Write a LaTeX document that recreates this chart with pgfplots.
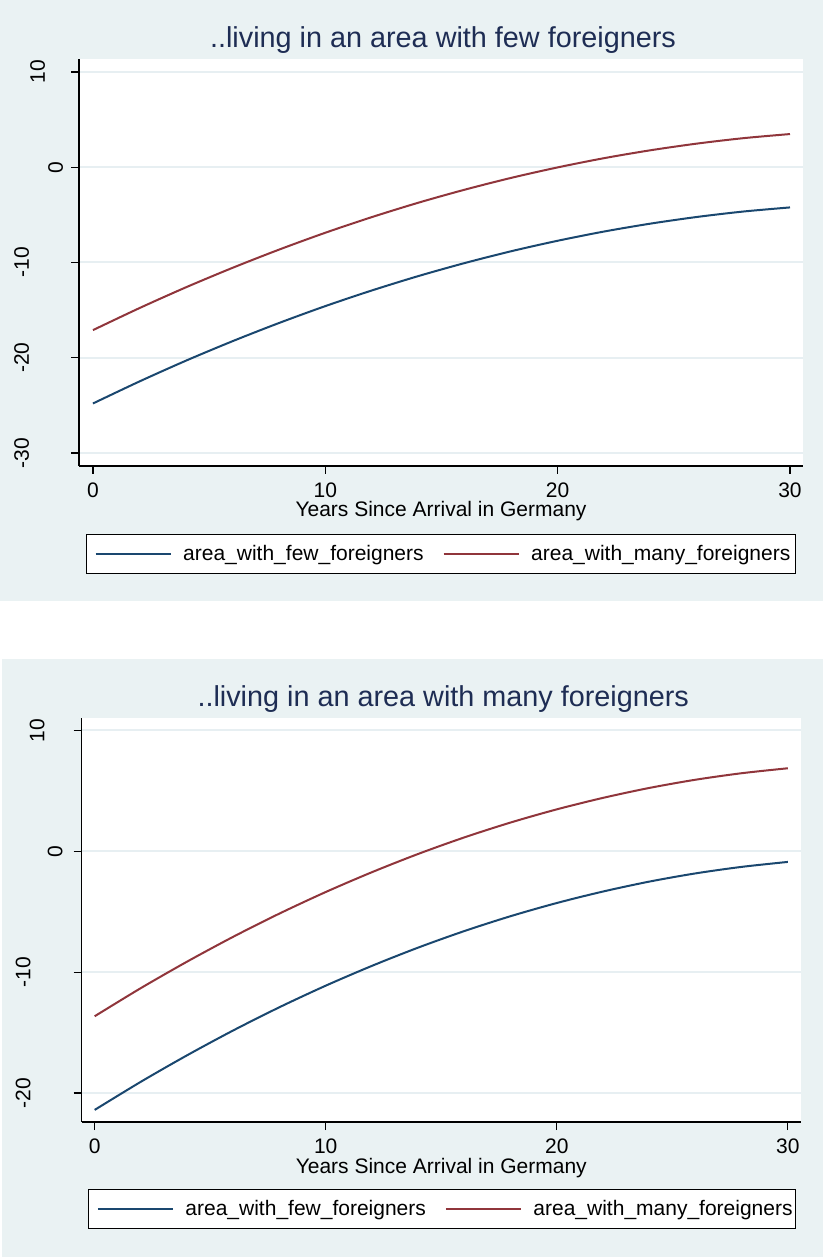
\documentclass[border=0pt]{standalone}
\usepackage{pgfplots}
\pgfplotsset{compat=1.18}
\usepackage{fontspec}
\setmainfont{Liberation Sans}
\definecolor{bg}{RGB}{234,242,243}
\definecolor{gridc}{RGB}{231,239,242}
\definecolor{navyS}{RGB}{26,71,111}
\definecolor{maroonS}{RGB}{144,53,59}
\definecolor{titlec}{RGB}{30,45,84}

\pgfplotstableread{
x    few     many
0   -24.80  -17.10
2   -22.49  -14.79
4   -20.31  -12.61
6   -18.27  -10.57
8   -16.36   -8.66
10  -14.58   -6.88
12  -12.94   -5.24
14  -11.43   -3.73
16  -10.06   -2.36
18   -8.82   -1.12
20   -7.72   -0.02
22   -6.75    0.95
24   -5.92    1.78
26   -5.22    2.48
28   -4.65    3.05
30   -4.22    3.48
}\panelA

\pgfplotstableread{
x    few     many
0   -21.40  -13.65
2   -19.07  -11.32
4   -16.88   -9.13
6   -14.82   -7.07
8   -12.90   -5.15
10  -11.12   -3.37
12   -9.48   -1.73
14   -7.97   -0.22
16   -6.60    1.15
18   -5.37    2.38
20   -4.28    3.47
22   -3.33    4.42
24   -2.51    5.24
26   -1.83    5.92
28   -1.29    6.46
30   -0.88    6.87
}\panelB

\pgfplotsset{
  stata/.style={
    scale only axis, anchor=south west,
    axis x line*=bottom, axis y line*=left,
    axis line style={-, line width=1.2bp, black},
    axis background/.style={fill=white},
    tick align=outside, major tick length=8bp,
    tick style={line width=1.2bp, black},
    xtick={0,10,20,30}, xticklabels={0,10,20,30},
    ymajorgrids, major grid style={line width=2bp, gridc},
    tick label style={font=\fontsize{21bp}{25bp}\selectfont},
    xticklabel style={anchor=north, inner sep=0pt, yshift=-8.5bp},
    yticklabel style={rotate=90, anchor=south, inner sep=0pt},
    every axis x label/.style={at={(axis description cs:0.5,0)}, anchor=base, yshift=-51bp, font=\fontsize{21bp}{25bp}\selectfont},
    xlabel={Years Since Arrival in Germany},
    every axis title/.style={at={(axis description cs:0.5,1)}, anchor=base, xshift=2bp, yshift=11bp, font=\fontsize{28.8bp}{34bp}\selectfont, color=titlec},
    legend columns=2,
    legend image code/.code={%
      \path[draw=none] (-9bp,0bp) (87.7bp,0bp);
      \draw[#1, line width=2bp] (0bp,0bp) -- (75bp,0bp);},
    legend style={draw=black, line width=1bp, fill=white, inner xsep=0pt, inner ysep=11bp,
      font=\fontsize{21bp}{25bp}\selectfont, anchor=north west,
      nodes={inner sep=0pt}, column sep=0pt},
    legend cell align=left,
  }
}

\begin{document}
\begin{tikzpicture}[x=1bp,y=1bp]
\useasboundingbox (0,0) rectangle (823,1257);
\fill[bg] (0,656) rectangle (823,1257);
\fill[bg] (2,0) rectangle (823,598);

\begin{axis}[stata, at={(79bp,791bp)}, width=724bp, height=407bp,
  xmin=-0.6, xmax=30.56, ymin=-31.36, ymax=11.36,
  ytick={-30,-20,-10,0,10},
  yticklabels={\raisebox{42bp}{-30},\raisebox{42bp}{-20},\raisebox{42bp}{-10},\raisebox{8bp}{0},\raisebox{26bp}{10}},
  title={..living in an area with few foreigners},
  legend style={at={(axis description cs:0.00967,-0.1671)}}]
\addplot[navyS, line width=2bp, smooth] table[x=x,y=few] {\panelA};
\addlegendentry{\makebox[251.3bp][l]{area\_with\_few\_foreigners}}
\addplot[maroonS, line width=2bp, smooth] table[x=x,y=many] {\panelA};
\addlegendentry{\makebox[264bp][l]{area\_with\_many\_foreigners}}
\end{axis}

\begin{axis}[stata, at={(81.5bp,135bp)}, width=719.5bp, height=404bp,
  xmin=-0.57, xmax=30.57, ymin=-22.4, ymax=11.03,
  ytick={-20,-10,0,10},
  yticklabels={\raisebox{43bp}{-20},\raisebox{43bp}{-10},\raisebox{11bp}{0},\raisebox{29bp}{10}},
  title={..living in an area with many foreigners},
  legend style={at={(axis description cs:0.0094,-0.1658)}}]
\addplot[navyS, line width=2bp, smooth] table[x=x,y=few] {\panelB};
\addlegendentry{\makebox[251.3bp][l]{area\_with\_few\_foreigners}}
\addplot[maroonS, line width=2bp, smooth] table[x=x,y=many] {\panelB};
\addlegendentry{\makebox[262.3bp][l]{area\_with\_many\_foreigners}}
\end{axis}
\end{tikzpicture}
\end{document}
